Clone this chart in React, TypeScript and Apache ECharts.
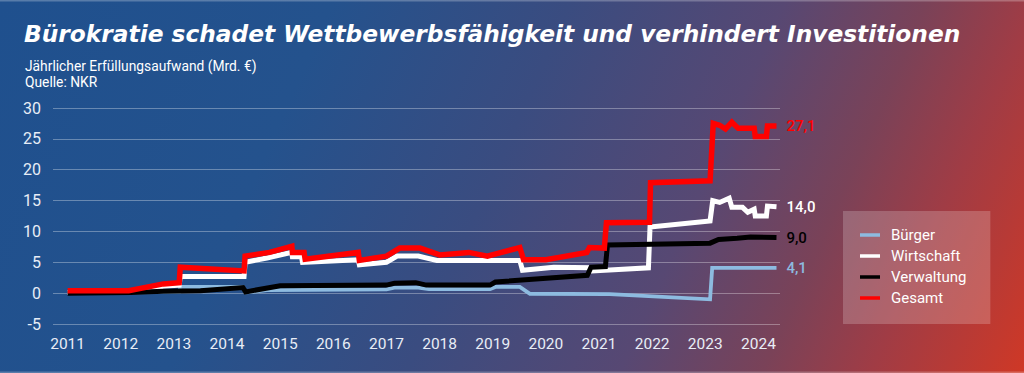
import React, { useEffect, useRef } from "react";
import * as echarts from "echarts";

const titleText = "Bürokratie schadet Wettbewerbsfähigkeit und verhindert Investitionen";
const subtitleText = "Jährlicher Erfüllungsaufwand (Mrd. €)\nQuelle: NKR";

const yearTicks = [2011, 2012, 2013, 2014, 2015, 2016, 2017, 2018, 2019, 2020, 2021, 2022, 2023, 2024];

const buerger: [number, number][] = [
  [2011.0, 0.0], [2013.1, 0.2], [2013.12, 1.0], [2014.3, 1.0], [2014.35, 0.1], [2014.75, 0.5],
  [2017.0, 0.6], [2017.15, 0.9], [2017.6, 0.9], [2017.8, 0.65], [2018.95, 0.65], [2019.05, 1.0],
  [2019.51, 1.0], [2019.7, -0.1], [2021.2, -0.15], [2023.09, -1.0], [2023.13, 4.1], [2024.34, 4.1],
];

const wirtschaft: [number, number][] = [
  [2011.0, 0.1], [2012.15, 0.1], [2012.8, 1.1], [2013.1, 1.3], [2013.12, 2.7], [2014.32, 2.7],
  [2014.34, 5.0], [2014.75, 5.7], [2015.22, 6.6], [2015.23, 5.9], [2015.4, 5.9], [2015.42, 5.0],
  [2016.47, 5.4], [2016.49, 4.6], [2017.0, 5.0], [2017.2, 6.0], [2017.6, 6.0], [2017.95, 5.3],
  [2019.51, 5.3], [2019.56, 3.7], [2020.15, 4.2], [2020.85, 4.1], [2020.88, 3.6], [2021.93, 4.1],
  [2021.96, 10.7], [2023.09, 11.7], [2023.14, 15.0], [2023.27, 14.7], [2023.45, 15.4], [2023.5, 13.9],
  [2023.7, 13.9], [2023.8, 13.1], [2023.92, 13.6], [2023.94, 12.5], [2024.15, 12.5], [2024.17, 14.1],
  [2024.34, 14.0],
];

const verwaltung: [number, number][] = [
  [2011.0, 0.0], [2012.2, 0.1], [2012.8, 0.3], [2013.5, 0.4], [2014.3, 0.9], [2014.35, 0.2],
  [2015.0, 1.2], [2017.0, 1.3], [2017.15, 1.6], [2017.55, 1.7], [2017.75, 1.3], [2018.95, 1.3],
  [2019.05, 1.8], [2020.78, 2.9], [2020.85, 4.2], [2021.12, 4.3], [2021.16, 7.8], [2023.09, 8.1],
  [2023.25, 8.7], [2023.6, 8.9], [2023.85, 9.1], [2024.34, 9.0],
];

const gesamt: [number, number][] = [
  [2011.0, 0.4], [2012.15, 0.4], [2012.8, 1.5], [2013.1, 1.7], [2013.12, 4.2], [2014.32, 3.6],
  [2014.34, 6.0], [2014.8, 6.6], [2015.22, 7.6], [2015.23, 6.6], [2015.45, 6.6], [2015.47, 5.5],
  [2016.47, 6.6], [2016.49, 5.3], [2017.0, 6.0], [2017.25, 7.3], [2017.63, 7.3], [2018.0, 6.2],
  [2018.55, 6.6], [2018.9, 6.0], [2019.51, 7.4], [2019.58, 5.4], [2020.0, 5.4], [2020.77, 6.6],
  [2020.82, 7.4], [2021.1, 7.3], [2021.14, 11.4], [2021.95, 11.5], [2021.97, 17.9], [2023.09, 18.2],
  [2023.15, 27.5], [2023.27, 27.2], [2023.38, 26.6], [2023.5, 27.7], [2023.62, 26.7], [2023.92, 26.7],
  [2023.94, 25.4], [2024.15, 25.4], [2024.17, 27.1], [2024.34, 27.1],
];

const seriesNames = ["Bürger", "Wirtschaft", "Verwaltung", "Gesamt"];
const seriesData = [buerger, wirtschaft, verwaltung, gesamt];
const seriesColors = ["#8dbbe0", "#ffffff", "#000000", "#ff0000"];
const seriesWidths = [3.8, 5, 5, 5.5];

const fmt = (v: number) => v.toFixed(1).replace(".", ",");

export default function App() {
  const ref = useRef<HTMLDivElement>(null);
  useEffect(() => {
    if (!ref.current) return;
    const chart = echarts.init(ref.current, null, { renderer: "svg" });
    const font = "Roboto";
    chart.setOption({
      animation: false,
      backgroundColor: "transparent",
      textStyle: { fontFamily: font },
      title: [
        {
          text: titleText,
          left: 19,
          top: 17,
          textStyle: {
            color: "#ffffff",
            fontFamily: "DejaVu Sans",
            fontSize: 23.3,
            fontWeight: "bold",
            fontStyle: "italic",
          },
        },
        {
          text: subtitleText,
          left: 20,
          top: 53,
          textStyle: {
            color: "#ffffff",
            fontFamily: font,
            fontSize: 13.8,
            fontWeight: "normal",
            lineHeight: 16,
          },
        },
      ],
      grid: { left: 53, right: 244, top: 108, bottom: 49, containLabel: false },
      xAxis: {
        type: "value",
        min: 2010.725,
        max: 2024.406,
        axisLine: { show: false },
        axisTick: { show: false },
        splitLine: { show: false },
        axisLabel: {
          customValues: yearTicks,
          formatter: (v: number) => String(Math.round(v)),
          color: "#e8edf6",
          fontSize: 15.5,
          margin: 12,
        },
      },
      yAxis: {
        type: "value",
        min: -5,
        max: 30,
        interval: 5,
        axisLine: { show: false },
        axisTick: { show: false },
        splitLine: { lineStyle: { color: "rgba(255,255,255,0.32)", width: 1 } },
        axisLabel: { color: "#e8edf6", fontSize: 16, margin: 12 },
      },
      legend: {
        orient: "vertical",
        left: 843,
        top: 211,
        data: seriesNames,
        icon: "rect",
        itemWidth: 20,
        itemHeight: 3.5,
        itemGap: 3,
        padding: [15, 24, 17, 17],
        backgroundColor: "rgba(255,255,255,0.2)",
        textStyle: { color: "#ffffff", fontSize: 15, lineHeight: 18, padding: [0, 0, 0, 6] },
      },
      series: seriesNames.map((name, i) => {
        const d = seriesData[i];
        const last = d[d.length - 1][1];
        return {
          name,
          type: "line",
          data: d,
          symbol: "none",
          showSymbol: false,
          color: seriesColors[i],
          lineStyle: { color: seriesColors[i], width: seriesWidths[i], join: "miter", cap: "butt" },
          endLabel: {
            show: true,
            formatter: () => fmt(last),
            color: seriesColors[i],
            fontSize: 15,
            fontWeight: 500,
            distance: 10,
          },
          z: 2 + i,
        };
      }),
      graphic: [
        { type: "rect", left: 0, top: 0, shape: { width: 1024, height: 1.5 }, style: { fill: "rgba(255,255,255,0.25)" } },
        { type: "rect", left: 0, top: 371.5, shape: { width: 1024, height: 1.5 }, style: { fill: "rgba(255,255,255,0.25)" } },
      ],
    });
    return () => chart.dispose();
  }, []);
  return (
    <div
      ref={ref}
      style={{
        position: "absolute",
        left: 0,
        top: 0,
        width: 1024,
        height: 373,
        background:
          "linear-gradient(114deg, #1f508e 0%, #24528d 28%, #3a4c80 48%, #574873 66%, #7a4258 78%, #a03c45 87%, #cf3826 100%)",
      }}
    />
  );
}
